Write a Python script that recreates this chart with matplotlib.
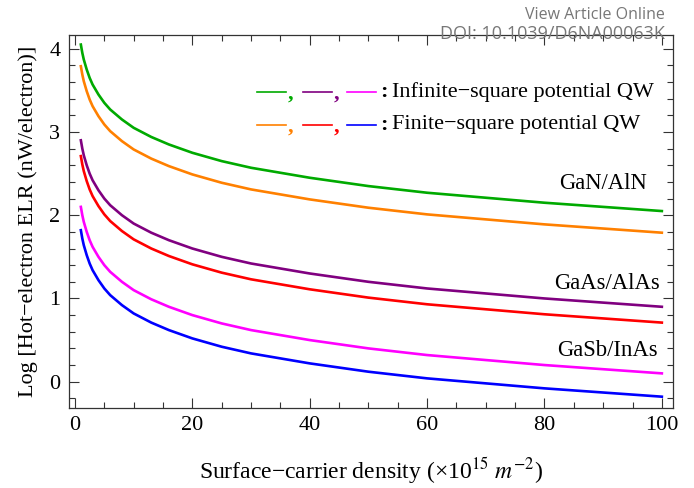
import numpy as np
import matplotlib
matplotlib.use("Agg")
import matplotlib.pyplot as plt
from matplotlib.lines import Line2D
from matplotlib.ticker import MultipleLocator

plt.rcParams['font.family'] = ['Liberation Serif', 'DejaVu Serif']
plt.rcParams['mathtext.fontset'] = 'stix'

# surface-carrier density (x10^15 m^-2)
density = [1, 1.25, 1.5, 2, 2.5, 3, 4, 5, 6, 8, 10, 13, 16, 20, 25, 30,
           40, 50, 60, 70, 80, 90, 100]

# log of hot-electron energy loss rate (nW/electron)
gan_inf = [4.05, 3.95, 3.87, 3.75, 3.65, 3.57, 3.45, 3.35, 3.27, 3.15, 3.05, 2.94,
           2.85, 2.75, 2.65, 2.57, 2.45, 2.35, 2.27, 2.21, 2.15, 2.10, 2.05]
gan_fin = [3.79, 3.69, 3.61, 3.49, 3.39, 3.31, 3.19, 3.09, 3.01, 2.89, 2.79, 2.68,
           2.59, 2.49, 2.39, 2.31, 2.19, 2.09, 2.01, 1.95, 1.89, 1.84, 1.79]
gaas_inf = [2.90, 2.80, 2.72, 2.60, 2.50, 2.42, 2.30, 2.20, 2.12, 2.00, 1.90, 1.79,
            1.70, 1.60, 1.50, 1.42, 1.30, 1.20, 1.12, 1.06, 1.00, 0.95, 0.90]
gaas_fin = [2.71, 2.61, 2.53, 2.41, 2.31, 2.23, 2.11, 2.01, 1.93, 1.81, 1.71, 1.60,
            1.51, 1.41, 1.31, 1.23, 1.11, 1.01, 0.93, 0.87, 0.81, 0.76, 0.71]
gasb_inf = [2.10, 2.00, 1.92, 1.80, 1.70, 1.62, 1.50, 1.40, 1.32, 1.20, 1.10, 0.99,
            0.90, 0.80, 0.70, 0.62, 0.50, 0.40, 0.32, 0.26, 0.20, 0.15, 0.10]
gasb_fin = [1.82, 1.72, 1.64, 1.52, 1.42, 1.34, 1.22, 1.12, 1.04, 0.92, 0.82, 0.71,
            0.62, 0.52, 0.42, 0.34, 0.22, 0.12, 0.04, -0.02, -0.08, -0.13, -0.18]

inf_colors = ['#00aa00', '#800080', '#ff00ff']
fin_colors = ['#ff8000', '#ff0000', '#0000ff']

W, H = 694, 488
fig = plt.figure(figsize=(W / 100, H / 100), dpi=100)
ax = fig.add_axes([68.7 / W, 1 - 408 / H, (673 - 68.7) / W, (408 - 35) / H])

lw = 1.9
ax.plot(density, gan_inf, color=inf_colors[0], lw=lw)
ax.plot(density, gan_fin, color=fin_colors[0], lw=lw)
ax.plot(density, gaas_inf, color=inf_colors[1], lw=lw)
ax.plot(density, gaas_fin, color=fin_colors[1], lw=lw)
ax.plot(density, gasb_inf, color=inf_colors[2], lw=lw)
ax.plot(density, gasb_fin, color=fin_colors[2], lw=lw)

ax.set_xlim(-1.07, 101.9)
ax.set_ylim(-0.316, 4.165)
ax.xaxis.set_major_locator(MultipleLocator(20))
ax.xaxis.set_minor_locator(MultipleLocator(5))
ax.yaxis.set_major_locator(MultipleLocator(1))
ax.yaxis.set_minor_locator(MultipleLocator(0.2))
ax.tick_params(which='both', direction='in', top=True, right=True,
               labelsize=16, color='#333333', width=0.8, pad=6)
ax.tick_params(which='major', length=7)
ax.tick_params(which='minor', length=4)
for s in ax.spines.values():
    s.set_color('#333333')
    s.set_linewidth(0.9)

ax.set_xlabel('Surface\u2212carrier density (\u00d710$^{15}$ $m^{-2}$)',
              fontsize=17, labelpad=14)
ax.set_ylabel('Log [Hot\u2212electron ELR (nW/electron)]', fontsize=16, labelpad=8)

ax.text(97.4, 2.385, 'GaN/AlN', fontsize=16.3, ha='right', va='center')
ax.text(99.7, 1.185, 'GaAs/AlAs', fontsize=16.3, ha='right', va='center')
ax.text(99.3, 0.38, 'GaSb/InAs', fontsize=16.3, ha='right', va='center')


def px(x, y):
    return x / W, 1 - y / H


# hand-made legend: colored dashes, colored commas, then the text
def legend_row(y, colors, label):
    starts = [257, 303, 347]
    for x0, c in zip(starts, colors):
        fig.add_artist(Line2D([x0 / W, (x0 + 29) / W], [1 - y / H] * 2,
                              color=c, lw=1.2))
    for x0, c in zip(starts[:2], colors[:2]):
        fig.text(*px(x0 + 33, y + 2), ',', color=c, fontsize=16,
                 ha='center', va='center', fontweight='bold')
    fig.text(*px(384, y), ':', fontsize=16, ha='center', va='center',
             fontweight='bold')
    fig.text(*px(392, y), label, fontsize=16, ha='left', va='center')


legend_row(91.7, inf_colors, 'Infinite\u2212square potential QW')
legend_row(125, fin_colors, 'Finite\u2212square potential QW')

# journal watermark
fig.text(*px(665, 15), 'View Article Online', fontsize=11.5, color='#777777',
         ha='right', va='center', family='Open Sans')
fig.text(*px(665, 34), 'DOI: 10.1039/D6NA00063K', fontsize=13, color='#777777',
         ha='right', va='center', family='Open Sans')

fig.savefig('out.png', dpi=100)
